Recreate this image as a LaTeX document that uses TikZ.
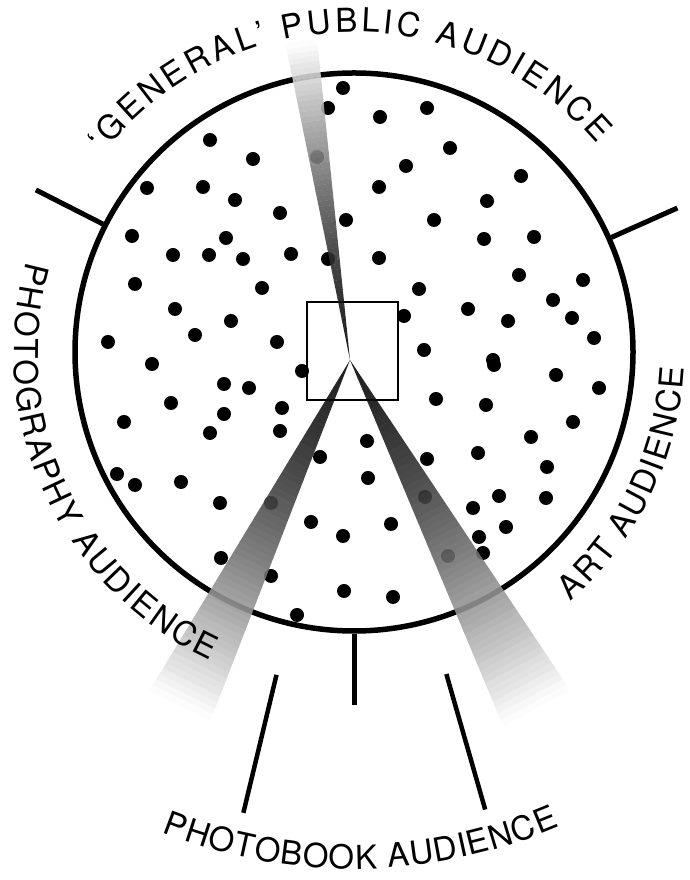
\documentclass[tikz,border=0pt]{standalone}
\usepackage{fontspec}
\setmainfont{TeX Gyre Heros}
\usetikzlibrary{decorations.text}

\newcommand\lbl{\fontsize{33}{33}\selectfont}
% beam: angle, length, half width at the far end
\newcommand\lightbeam[3]{%
  \begin{scope}[shift={(apex)}, rotate=#1, transparency group, opacity=.88]
    \foreach \i in {0,...,59}{
      \pgfmathsetmacro\ta{\i/60}
      \pgfmathsetmacro\tb{(\i+1.05)/60}
      \pgfmathsetmacro\tm{(\i+.5)/60}
      \pgfmathtruncatemacro\tone{100*(1-\tm*sqrt(\tm))}
      \fill[black!\tone] (\ta*#2,-\ta*#3) -- (\tb*#2,-\tb*#3) -- (\tb*#2,\tb*#3) -- (\ta*#2,\ta*#3) -- cycle;
    }
  \end{scope}}

\begin{document}
\begin{tikzpicture}[
    x=1pt, y=1pt,
    dot/.style={fill=black},
    tick/.style={draw, line width=5pt},
    spoke/.style={draw, line width=4.5pt},
    arclabel/.style={decorate, decoration={text along path, text align=fit to path, text={|\lbl|#1}}}
]
\useasboundingbox (0,0) rectangle (690,880);
\coordinate (O) at (354,528);
\coordinate (apex) at (350,520);

% Crowd
\foreach \x/\y in {343/88, 328/108, 380/117, 427/108,
    210/140, 253/159, 317/157, 450/148, 406/166, 521/176,
    147/188, 203/187, 379/187, 487/201, 235/200, 280/213,
    346/220, 434/220, 132/236, 226/238, 484/239, 534/237,
    173/255, 209/255, 243/259, 291/254, 328/259, 379/258,
    519/275, 583/280, 135/284, 262/288, 419/289, 553/300,
    175/309, 231/321, 468/309, 508/321, 404/316, 572/318,
    195/335, 277/342, 108/342, 594/338, 424/350, 493/360,
    152/364, 302/371, 224/384, 249/388, 171/403, 282/408,
    224/414, 124/422, 210/433, 280/431, 320/457, 117/474,
    135/485, 181/482, 220/503, 271/503, 311/522, 343/536,
    221/558, 271/576, 344/591, 297/615,
    494/365, 556/375, 599/388, 436/399, 486/405, 573/422,
    531/437, 367/441, 478/453, 427/459, 547/467, 368/478,
    425/497, 499/496, 546/498, 473/508, 391/524, 506/527,
    479/537, 483/553, 448/556, 393/597}
  \fill[dot] (\x,880-\y) circle[radius=7pt];

% Ring and ticks
\node[circle, draw, line width=5.5pt, minimum size=558pt, inner sep=0pt] (ring) at (O) {};
\draw[tick] (ring.153) -- ([shift={(153:357)}]O);
\draw[tick] (ring.24) -- ([shift={(24:354)}]O);
\draw[tick] (ring.-90) -- ([shift={(-90:353)}]O);
\draw[spoke] ([shift={(-103.5:332)}]O) -- ([shift={(-103.5:474)}]O);
\draw[spoke] ([shift={(-74:335)}]O) -- ([shift={(-74:476)}]O);

% Viewer
\node[draw, line width=2pt, minimum width=91pt, minimum height=98pt, inner sep=0pt] (lens) at (352.5,529) {};

% Beams
\lightbeam{98.7}{322}{16}
\lightbeam{-116.2}{385}{34}
\lightbeam{-61.8}{395}{38}

% Labels
\path[arclabel={‘GENERAL’ PUBLIC AUDIENCE}] ([shift={(141.5:320)}]O) arc[start angle=141.5, end angle=40.5, radius=320];
\path[arclabel={PHOTOGRAPHY AUDIENCE}] ([shift={(164.5:340)}]O) arc[start angle=164.5, end angle=245, radius=340];
\path[arclabel={ART AUDIENCE}] ([shift={(-49:330)}]O) arc[start angle=-49, end angle=-2.7, radius=330];
\path[arclabel={PHOTOBOOK AUDIENCE}] ([shift={(-111.8:517)}]O) arc[start angle=-111.8, end angle=-66.6, radius=517];
\end{tikzpicture}
\end{document}
